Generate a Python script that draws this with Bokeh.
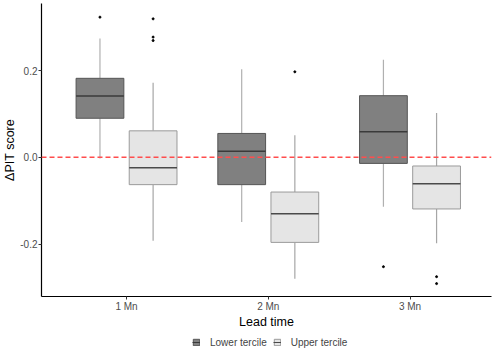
from bokeh.plotting import figure
from bokeh.models import FixedTicker, Span, Legend, LegendItem
from bokeh.layouts import column
from bokeh.embed import file_html
from bokeh.resources import INLINE

categories = ["1 Mn", "2 Mn", "3 Mn"]
series = ["Lower tercile", "Upper tercile"]

lower_lo = [-0.003, -0.149, -0.114]
lower_q1 = [0.090, -0.063, -0.014]
lower_med = [0.141, 0.014, 0.059]
lower_q3 = [0.182, 0.055, 0.142]
lower_hi = [0.274, 0.203, 0.225]
lower_out = [[0.323], [], [-0.252]]

upper_lo = [-0.192, -0.280, -0.198]
upper_q1 = [-0.063, -0.196, -0.119]
upper_med = [-0.024, -0.130, -0.061]
upper_q3 = [0.061, -0.080, -0.020]
upper_hi = [0.172, 0.051, 0.102]
upper_out = [[0.319, 0.277, 0.269], [0.197], [-0.275, -0.291]]

FONT = "Liberation Sans"

p = figure(frame_width=450, frame_height=293, output_backend="svg", toolbar_location=None,
           x_range=(0.4, 3.575), y_range=(-0.3207, 0.3544),
           min_border_left=0, min_border_right=2, min_border_top=3, min_border_bottom=0)
p.outline_line_color = None
p.xgrid.visible = False
p.ygrid.visible = False
p.background_fill_color = "white"

p.add_layout(Span(location=0, dimension="width", line_color="#ff4d4d",
                  line_dash="5 3", line_width=1.5))

width = 0.337
offset = 0.1875
styles = [
    (lower_lo, lower_q1, lower_med, lower_q3, lower_hi, lower_out, -offset, "#808080", "#555555", "#3a3a3a", "#b0b0b0"),
    (upper_lo, upper_q1, upper_med, upper_q3, upper_hi, upper_out, offset, "#e5e5e5", "#9a9a9a", "#4a4a4a", "#a6a6a6"),
]
for lo, q1, med, q3, hi, outs, off, fill, edge, medc, whc in styles:
    xs = [i + 1 + off for i in range(len(categories))]
    p.segment(x0=xs, y0=q3, x1=xs, y1=hi, line_color=whc, line_width=1.2)
    p.segment(x0=xs, y0=q1, x1=xs, y1=lo, line_color=whc, line_width=1.2)
    p.vbar(x=xs, width=width, bottom=q1, top=q3, fill_color=fill,
           line_color=edge, line_width=1)
    p.segment(x0=[x - width / 2 for x in xs], y0=med, x1=[x + width / 2 for x in xs], y1=med,
              line_color=medc, line_width=1.5)
    ox, oy = [], []
    for x, vals in zip(xs, outs):
        for v in vals:
            ox.append(x)
            oy.append(v)
    p.scatter(ox, oy, size=2, color="black")

p.xaxis.ticker = FixedTicker(ticks=[1, 2, 3])
p.xaxis.major_label_overrides = {1: categories[0], 2: categories[1], 3: categories[2]}
p.yaxis.ticker = FixedTicker(ticks=[-0.2, 0.0, 0.2])
p.yaxis.major_label_overrides = {-0.2: "-0.2", 0: "0.0", 0.2: "0.2"}

for ax in (p.xaxis[0], p.yaxis[0]):
    ax.axis_line_color = "black"
    ax.axis_line_width = 1.2
    ax.major_tick_line_color = "#333333"
    ax.major_tick_in = 0
    ax.major_tick_out = 3
    ax.minor_tick_line_color = None
    ax.major_label_text_font = FONT
    ax.major_label_text_font_size = "10px"
    ax.major_label_text_color = "#4d4d4d"
    ax.major_label_standoff = 1
    ax.axis_label_text_font = FONT
    ax.axis_label_text_font_size = "12.5px"
    ax.axis_label_text_font_style = "normal"
    ax.axis_label_text_color = "black"
    ax.axis_label_standoff = 0

p.xaxis.axis_label = "Lead time"
p.yaxis.axis_label = "ΔPIT score"

# legend strip below the plot
lg = figure(width=484, height=17, output_backend="svg", toolbar_location=None,
            x_axis_type=None, y_axis_type=None, x_range=(0, 1), y_range=(0, 1),
            min_border=0)
lg.outline_line_color = None
lg.xgrid.visible = False
lg.ygrid.visible = False
items = []
for name, fill, edge, medc in [(series[0], "#808080", "#555555", "#3a3a3a"),
                               (series[1], "#e5e5e5", "#9a9a9a", "#4a4a4a")]:
    rb = lg.vbar(x=[-5], top=[-5], bottom=[-6], width=0.1, fill_color=fill, line_color=edge)
    rm = lg.segment(x0=[-5], y0=[-5], x1=[-4], y1=[-5], line_color=medc, line_width=1)
    items.append(LegendItem(label=name, renderers=[rb, rm]))
legend = Legend(items=items, orientation="horizontal", location=(151, 0))
legend.label_text_font = FONT
legend.label_text_font_size = "10px"
legend.label_standoff = 10
legend.glyph_width = 8
legend.glyph_height = 8
legend.spacing = 6
legend.padding = 0
legend.margin = 0
legend.border_line_color = None
legend.background_fill_alpha = 0
legend.label_height = 12
lg.add_layout(legend)

open("out.html", "w").write(file_html(column(p, lg, spacing=0), INLINE))
